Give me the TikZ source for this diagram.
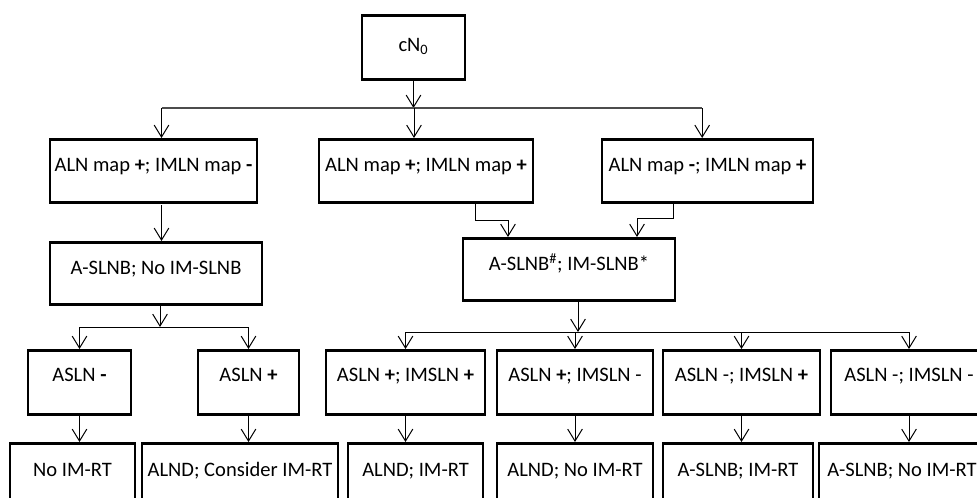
\documentclass[tikz,border=0pt]{standalone}
\usepackage{fontspec}
\setmainfont{Carlito}
\usetikzlibrary{arrows.meta}

\tikzset{
    box/.style={draw, line width=2pt, anchor=north, inner xsep=0pt, inner ysep=0pt, align=center, font=\fontsize{15.4}{18}\selectfont},
    arr/.style={line width=0.75pt, -{Straight Barb[length=9pt,width=11pt,line width=0.75pt]}},
    link/.style={line width=0.75pt},
    rowtwo/.style={box, text height=24pt, text depth=23.25pt},
    rowthree/.style={box, text height=24pt, text depth=22.5pt},
    rowfour/.style={box, text height=23.25pt, text depth=24.75pt},
    rowfive/.style={box, text height=24.75pt, text depth=23.25pt},
}

\begin{document}
\begin{tikzpicture}[x=0.75pt, y=-0.75pt]
    \useasboundingbox (0,0) rectangle (977,497);
    \clip (0,0) rectangle (977,497);

    % top node
    \node (cN) at (413.5,14) [box, minimum width=77.25pt, text height=27pt, text depth=21pt] {cN\textsubscript{0}};

    % lymph node maps
    \node (mapA) at (153.5,138) [rowtwo, minimum width=155.25pt] {ALN map \textbf{+}; IMLN map \textbf{-}};
    \node (mapB) at (426,138) [rowtwo, minimum width=160.5pt] {ALN map \textbf{+}; IMLN map \textbf{+}};
    \node (mapC) at (707.5,138) [rowtwo, minimum width=158.25pt] {ALN map \textbf{-}; IMLN map \textbf{+}};

    % biopsy
    \node (slnbA) at (156,241) [rowthree, minimum width=159pt] {A-SLNB; No IM-SLNB};
    \node (slnbB) at (569,237) [rowthree, minimum width=159pt] {A-SLNB\textsuperscript{\#}; IM-SLNB*};

    % sentinel node status
    \node (aslnNeg) at (79.5,349) [rowfour, minimum width=77.25pt] {ASLN \textbf{-}};
    \node (aslnPos) at (248.5,349) [rowfour, minimum width=75.75pt] {ASLN \textbf{+}};
    \node (stPP) at (405.5,349) [rowfour, minimum width=119.25pt] {ASLN \textbf{+}; IMSLN \textbf{+}};
    \node (stPN) at (575,349) [rowfour, minimum width=117pt] {ASLN \textbf{+}; IMSLN -};
    \node (stNP) at (741.5,349) [rowfour, minimum width=117.75pt] {ASLN -; IMSLN \textbf{+}};
    \node (stNN) at (909,349) [rowfour, minimum width=117pt] {ASLN -; IMSLN -};

    % treatment
    \node (noRT) at (72.5,442) [rowfive, minimum width=93.75pt] {No IM-RT};
    \node (consRT) at (240,442) [rowfive, minimum width=147pt] {ALND; Consider IM-RT};
    \node (alndRT) at (415.5,442) [rowfive, minimum width=101.25pt] {ALND; IM-RT};
    \node (alndNo) at (575,442) [rowfive, minimum width=117pt] {ALND; No IM-RT};
    \node (slnbRT) at (738,442) [rowfive, minimum width=112.5pt] {A-SLNB; IM-RT};
    \node (slnbNo) at (902,442) [rowfive, minimum width=124.5pt] {A-SLNB; No IM-RT};

    % split under cN0
    \coordinate (busTop) at (414,108);
    \draw[arr] (cN.south |- 0,80) -- (cN.south |- busTop);
    \draw[line width=1.2pt, black!70] ([xshift=6pt]mapA.north |- busTop) -- ([xshift=-4pt]mapC.north |- busTop);
    \draw[arr] ([xshift=6pt]mapA.north |- busTop) -- ([xshift=6pt]mapA.north);
    \draw[arr] (busTop) -- (busTop |- mapB.north);
    \draw[arr] ([xshift=-4pt]mapC.north |- busTop) -- ([xshift=-4pt]mapC.north);

    % left branch
    \draw[arr] ([xshift=6pt]mapA.south |- 0,205) -- ([xshift=6pt]mapA.south |- slnbA.north);
    \coordinate (busA) at (160,327);
    \draw[arr] (slnbA.south -| busA) -- (busA);
    \draw[link] (aslnNeg.north |- busA) -- (aslnPos.north |- busA);
    \draw[arr] (aslnNeg.north |- busA) -- (aslnNeg.north);
    \draw[arr] (aslnPos.north |- busA) -- (aslnPos.north);
    \draw[arr] (aslnNeg.south) -- (aslnNeg.south |- noRT.north);
    \draw[arr] (aslnPos.south) -- (aslnPos.south |- consRT.north);

    % middle and right branches join
    \coordinate (kinkB) at (508,220);
    \coordinate (kinkC) at (637,218);
    \draw[arr] ([xshift=-44pt]mapB.south east) |- (kinkB) -- (kinkB |- slnbB.north);
    \draw[arr] ([xshift=54.75pt]mapC.south west) |- (kinkC) -- (kinkC |- slnbB.north);

    % split under A-SLNB; IM-SLNB
    \coordinate (busB) at (578,332);
    \draw[arr] (slnbB.south -| busB) -- (busB);
    \draw[link] (stPP.north |- busB) -- (stNN.north |- busB);
    \foreach \n in {stPP,stPN,stNP,stNN}
        \draw[arr] (\n.north |- busB) -- (\n.north);

    % down to treatment
    \draw[arr] (stPP.south) -- (stPP.south |- alndRT.north);
    \draw[arr] (stPN.south) -- (stPN.south |- alndNo.north);
    \draw[arr] (stNP.south) -- (stNP.south |- slnbRT.north);
    \draw[arr] (stNN.south) -- (stNN.south |- slnbNo.north);

\end{tikzpicture}
\end{document}
